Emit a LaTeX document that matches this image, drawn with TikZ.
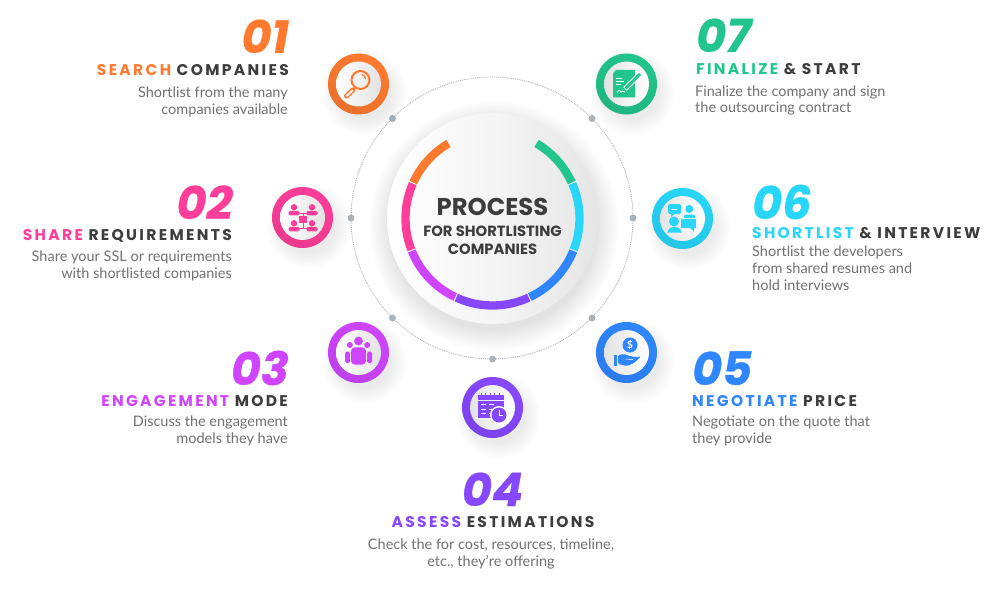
\documentclass[tikz,border=0pt]{standalone}
\usepackage{fontspec}
\setmainfont{Lato}
\newfontfamily\numfont[FakeBold=0.6]{Poppins}
\newfontfamily\headfont[LetterSpace=15]{Poppins}
\newfontfamily\titlefont{Poppins}
\definecolor{searchcol}{HTML}{FF7A2F}
\definecolor{sharecol}{HTML}{FF3E9A}
\definecolor{modecol}{HTML}{CF45FF}
\definecolor{assesscol}{HTML}{8648FF}
\definecolor{pricecol}{HTML}{2F86FF}
\definecolor{shortcol}{HTML}{27D6F8}
\definecolor{finalcol}{HTML}{22C58B}
\definecolor{darktext}{HTML}{3D3D3D}
\definecolor{bodytext}{HTML}{707173}
\definecolor{dotcol}{HTML}{ABB3B9}
\tikzset{
	numlabel/.style={font=\numfont\bfseries\itshape\fontsize{46}{46}\selectfont, inner sep=0, text depth=0pt, text height=33pt},
	headlabel/.style={font=\headfont\bfseries\fontsize{15.5}{16}\selectfont, text=darktext, inner sep=0, text depth=0pt, text height=11.5pt},
	bodylabel/.style={font=\fontsize{14.5}{16.6}\selectfont, text=bodytext, inner sep=0},
	titlelabel/.style={text=darktext, inner sep=0, align=center}
}
\begin{document}
\begin{tikzpicture}[x=1pt, y=-1pt]
	\useasboundingbox (0,0) rectangle (1000,591);
	\fill[white] (0,0) rectangle (1000,591);

	% dotted ring behind the disc
	\draw[dotcol, densely dotted, line width=0.9pt] (492,218) circle (141pt);
	\foreach \nm/\x/\y in {a/351/218, b/392.5/118.5, c/592/118.5, d/633/218, e/592/318, f/492.5/359, g/392.5/318}
	{
		\node[circle, fill=dotcol, minimum size=7pt, inner sep=0] (dot\nm) at (\x,\y) {};
	}

	% centre disc
	\foreach \i in {0,...,13}
	{
		\fill[black, opacity=0.006] (494,226) circle ({104+\i*1.6 pt});
	}
	\node[circle, minimum size=211pt, inner sep=0, left color=white, right color=black!10, middle color=black!4] (disc) at (492.5,218.5) {};
	\foreach \a/\b/\col in {120/156/searchcol, 156/201.5/sharecol, 201.5/245/modecol, 245/295/assesscol, 295/338.5/pricecol, 338.5/384/shortcol, 384/420/finalcol}
	{
		\draw[\col, line width=8.3pt] ([shift={(\a+0.4:87pt)}]492.5,218.5) arc (\a+0.4:\b-0.4:87pt);
	}
	\node[titlelabel, font=\titlefont\bfseries\fontsize{24.3}{24}\selectfont] (title) at (492.5,207) {PROCESS};
	\node[titlelabel, font=\titlefont\bfseries\fontsize{14.8}{18}\selectfont] (subtitle) at (492.5,240) {FOR SHORTLISTING\\COMPANIES};

	% icon rings
	\foreach \nm/\x/\y/\col/\lft/\rgt in {1/358.5/84/searchcol/white/black!11, 2/302.5/217.5/sharecol/white/black!11, 3/358.5/352.5/modecol/white/black!11, 4/492.5/407.5/assesscol/black!11/white, 5/626.5/352.5/pricecol/black!11/white, 6/682.5/218.5/shortcol/black!11/white, 7/626.5/84/finalcol/black!11/white}
	{
		\foreach \i in {0,...,9}
		{
			\fill[black, opacity=0.007] (\x+6,\y+9) circle ({27+\i*1.7 pt});
		}
		\node[circle, minimum size=61pt, inner sep=0, top color=\col, bottom color=\col!92!black, shading angle=-25] (ring\nm) at (\x,\y) {};
		\node[circle, minimum size=45pt, inner sep=0, left color=\lft, right color=\rgt] (core\nm) at (\x,\y) {};
	}

	% 01 magnifier
	\draw[searchcol, line width=2pt] (360.5,80) circle (9pt);
	\draw[searchcol, line width=1.2pt, line cap=round] (362,74.5) arc (70:10:5.5pt);
	\draw[searchcol, line width=5pt, line cap=round] (346.5,96) -- (353,90);
	\draw[white!95!black, line width=2pt, line cap=round] (346.5,96) -- (353,90);
	\draw[searchcol, line width=2pt] (353,90) -- (354.5,88);

	% 02 team chart
	\foreach \x/\y in {294/207.3, 312/207.3, 294/223.3, 312/223.3}
	{
		\fill[sharecol] (\x,\y) circle (3.2pt);
		\fill[sharecol, rounded corners=1.5pt] (\x-5.5,\y+8) rectangle (\x+5.5,\y+3.5);
	}
	\draw[sharecol, line width=0.8pt] (294,213) -- (312,213) (303,213) -- (303,228) (296,228) -- (310,228);
	\fill[sharecol] (299,216) rectangle (307,223);

	% 03 people
	\fill[modecol] (349.8,345) circle (3pt) (367.2,345) circle (3pt);
	\fill[modecol, rounded corners=1.5pt] (345,363) -- (345,351.7) -- (350,351.7) -- (350,363) -- cycle;
	\fill[modecol, rounded corners=1.5pt] (372,363) -- (372,351.7) -- (367,351.7) -- (367,363) -- cycle;
	\fill[modecol, draw=white!95!black, line width=0.8pt] (358.5,341) circle (5pt);
	\fill[modecol, draw=white!95!black, line width=0.8pt, rounded corners=4pt] (350.5,365) -- (350.5,347) -- (366.5,347) -- (366.5,365) -- cycle;

	% 04 calendar and clock
	\fill[assesscol] (478,395) rectangle (504,399.5);
	\foreach \x in {481,485.5,490,494.5,499}
	{
		\draw[assesscol, line width=1pt] (\x,393) -- (\x,395);
	}
	\fill[assesscol] (478,401) rectangle (504,418);
	\foreach \y in {404.5,409,413.5}
	{
		\draw[white, line width=1pt] (481,\y) -- (486,\y) (489,\y) -- (494,\y);
	}
	\fill[white] (499,415) circle (9pt);
	\fill[assesscol] (499,415) circle (7.5pt);
	\draw[white, line width=1pt] (499,410) -- (499,415.5) -- (503,415.5);

	% 05 coin in a hand
	\fill[pricecol] (630,345) circle (7.5pt);
	\node[text=white, inner sep=0, font=\bfseries\fontsize{10}{10}\selectfont] (dollar) at (630,345) {\$};
	\fill[pricecol] (613.5,354.5) rectangle (616.5,366);
	\fill[pricecol, rounded corners=1.5pt] (618,355) -- (624,354) -- (630,356) -- (635,357) -- (641,356.5) -- (634,363) -- (627,366) -- (618,364) -- cycle;
	\draw[white, line width=0.6pt] (626,359) -- (633,359.5);

	% 06 interview
	\fill[shortcol, rounded corners=1.5pt] (668,204) rectangle (681,214);
	\fill[shortcol] (671,213) -- (671,217) -- (675,213) -- cycle;
	\draw[white, line width=1pt] (670.5,209) -- (677,209);
	\fill[shortcol] (689.3,209) circle (4pt);
	\fill[shortcol, rounded corners=2pt] (684,220) -- (684,214.5) -- (695,214.5) -- (695,220) -- cycle;
	\fill[shortcol, draw=white!93!black, line width=0.8pt] (680.5,218.5) rectangle (696,228.5);
	\fill[shortcol] (690,228) -- (694,231.5) -- (694,228) -- cycle;
	\fill[shortcol] (674,221.5) circle (5pt);
	\fill[shortcol] (667.5,232.5) arc (180:0:7pt and 5.5pt) -- cycle;

	% 07 contract
	\fill[finalcol] (616,70) -- (635,70) -- (635,97.5) -- (613,97.5) -- (613,73) -- cycle;
	\draw[white, line width=0.9pt] (616,78) -- (622,78) (616,81) -- (624,81) (616,84) -- (621,84);
	\draw[white, line width=0.8pt] (617,93) .. controls (619,89) and (620,90) .. (621,92) .. controls (622,91) and (623,91) .. (625,92);
	\draw[white, line width=5pt] (625,89) -- (640,74);
	\draw[finalcol, line width=3pt] (625.5,88.5) -- (640,74);

	% captions on the left
	\node[numlabel, text=searchcol, anchor=base east] (num1) at (289,53) {01};
	\node[headlabel, anchor=base east] (head1) at (289,76) {\textcolor{searchcol}{SEARCH} COMPANIES};
	\node[bodylabel, anchor=base east, align=right] (body1) at (288,114) {Shortlist from the many\\companies available};

	\node[numlabel, text=sharecol, anchor=base east] (num2) at (233,219) {02};
	\node[headlabel, anchor=base east] (head2) at (232,240) {\textcolor{sharecol}{SHARE} REQUIREMENTS};
	\node[bodylabel, anchor=base east, align=right] (body2) at (232,278) {Share your SSL or requirements\\with shortlisted companies};

	\node[numlabel, text=modecol, anchor=base east] (num3) at (289,385) {03};
	\node[headlabel, anchor=base east] (head3) at (288,406) {\textcolor{modecol}{ENGAGEMENT} MODE};
	\node[bodylabel, anchor=base east, align=right] (body3) at (288,443) {Discuss the engagement\\models they have};

	% captions below and on the right
	\node[numlabel, text=assesscol, anchor=base] (num4) at (492.5,506) {04};
	\node[headlabel, anchor=base] (head4) at (493,527) {\textcolor{assesscol}{ASSESS} ESTIMATIONS};
	\node[bodylabel, anchor=base, align=center] (body4) at (491,566) {Check the for cost, resources, timeline,\\etc., they're offering};

	\node[numlabel, text=pricecol, anchor=base west] (num5) at (692,385) {05};
	\node[headlabel, anchor=base west] (head5) at (692,406) {\textcolor{pricecol}{NEGOTIATE} PRICE};
	\node[bodylabel, anchor=base west, align=left] (body5) at (692,443) {Negotiate on the quote that\\they provide};

	\node[numlabel, text=shortcol, anchor=base west] (num6) at (752,219) {06};
	\node[headlabel, anchor=base west] (head6) at (752,238) {\textcolor{shortcol}{SHORTLIST} \& INTERVIEW};
	\node[bodylabel, anchor=base west, align=left] (body6) at (752,290) {Shortlist the developers\\from shared resumes and\\hold interviews};

	\node[numlabel, text=finalcol, anchor=base west] (num7) at (696,52) {07};
	\node[headlabel, anchor=base west] (head7) at (696,75) {\textcolor{finalcol}{FINALIZE} \& START};
	\node[bodylabel, anchor=base west, align=left] (body7) at (695,113) {Finalize the company and sign\\the outsourcing contract};
\end{tikzpicture}
\end{document}
